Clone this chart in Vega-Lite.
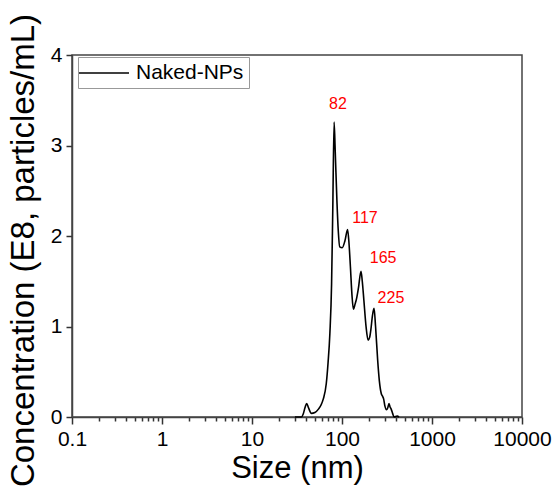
{
  "$schema": "https://vega.github.io/schema/vega-lite/v6.json",
  "width": 450,
  "height": 362,
  "autosize": "none",
  "padding": {"left": 72, "top": 55, "right": 33, "bottom": 78},
  "background": "white",
  "config": {
    "font": "Liberation Sans",
    "view": {"stroke": "#444", "strokeWidth": 1.5},
    "axis": {
      "domainColor": "#444", "domainWidth": 1.5, "tickColor": "#333", "tickWidth": 1.5,
      "labelColor": "black", "titleColor": "black",
      "labelFont": "Liberation Sans", "titleFont": "Liberation Sans",
      "labelFontSize": 21, "titleFontSize": 31, "titleFontWeight": "normal", "grid": false
    }
  },
  "datasets": {
    "curve": [
      {"size": 30, "conc": 0, "series": "Naked-NPs"},
      {"size": 35.4, "conc": 0, "series": "Naked-NPs"},
      {"size": 37, "conc": 0.03, "series": "Naked-NPs"},
      {"size": 39, "conc": 0.11, "series": "Naked-NPs"},
      {"size": 40.5, "conc": 0.15, "series": "Naked-NPs"},
      {"size": 42.5, "conc": 0.1, "series": "Naked-NPs"},
      {"size": 45.7, "conc": 0.04, "series": "Naked-NPs"},
      {"size": 50, "conc": 0.05, "series": "Naked-NPs"},
      {"size": 55, "conc": 0.09, "series": "Naked-NPs"},
      {"size": 58.3, "conc": 0.13, "series": "Naked-NPs"},
      {"size": 62, "conc": 0.2, "series": "Naked-NPs"},
      {"size": 66.9, "conc": 0.37, "series": "Naked-NPs"},
      {"size": 70, "conc": 0.6, "series": "Naked-NPs"},
      {"size": 73.3, "conc": 0.92, "series": "Naked-NPs"},
      {"size": 76.6, "conc": 1.47, "series": "Naked-NPs"},
      {"size": 79, "conc": 2.3, "series": "Naked-NPs"},
      {"size": 81.7, "conc": 3.26, "series": "Naked-NPs"},
      {"size": 84, "conc": 2.95, "series": "Naked-NPs"},
      {"size": 87.8, "conc": 2.39, "series": "Naked-NPs"},
      {"size": 91, "conc": 2.05, "series": "Naked-NPs"},
      {"size": 94.3, "conc": 1.88, "series": "Naked-NPs"},
      {"size": 100.5, "conc": 1.87, "series": "Naked-NPs"},
      {"size": 108, "conc": 1.95, "series": "Naked-NPs"},
      {"size": 115.3, "conc": 2.07, "series": "Naked-NPs"},
      {"size": 119, "conc": 1.95, "series": "Naked-NPs"},
      {"size": 124, "conc": 1.66, "series": "Naked-NPs"},
      {"size": 129, "conc": 1.35, "series": "Naked-NPs"},
      {"size": 134, "conc": 1.19, "series": "Naked-NPs"},
      {"size": 140, "conc": 1.25, "series": "Naked-NPs"},
      {"size": 144.5, "conc": 1.3, "series": "Naked-NPs"},
      {"size": 152, "conc": 1.42, "series": "Naked-NPs"},
      {"size": 162.6, "conc": 1.61, "series": "Naked-NPs"},
      {"size": 168, "conc": 1.5, "series": "Naked-NPs"},
      {"size": 175, "conc": 1.29, "series": "Naked-NPs"},
      {"size": 185, "conc": 1.0, "series": "Naked-NPs"},
      {"size": 195, "conc": 0.85, "series": "Naked-NPs"},
      {"size": 203, "conc": 0.88, "series": "Naked-NPs"},
      {"size": 209, "conc": 0.96, "series": "Naked-NPs"},
      {"size": 218, "conc": 1.12, "series": "Naked-NPs"},
      {"size": 227, "conc": 1.2, "series": "Naked-NPs"},
      {"size": 236, "conc": 1.0, "series": "Naked-NPs"},
      {"size": 249, "conc": 0.63, "series": "Naked-NPs"},
      {"size": 260, "conc": 0.4, "series": "Naked-NPs"},
      {"size": 273, "conc": 0.26, "series": "Naked-NPs"},
      {"size": 282, "conc": 0.23, "series": "Naked-NPs"},
      {"size": 290, "conc": 0.2, "series": "Naked-NPs"},
      {"size": 300, "conc": 0.12, "series": "Naked-NPs"},
      {"size": 312, "conc": 0.08, "series": "Naked-NPs"},
      {"size": 322, "conc": 0.1, "series": "Naked-NPs"},
      {"size": 333, "conc": 0.15, "series": "Naked-NPs"},
      {"size": 342, "conc": 0.11, "series": "Naked-NPs"},
      {"size": 351, "conc": 0.09, "series": "Naked-NPs"},
      {"size": 365, "conc": 0.04, "series": "Naked-NPs"},
      {"size": 380, "conc": 0, "series": "Naked-NPs"},
      {"size": 410, "conc": 0.01, "series": "Naked-NPs"},
      {"size": 430, "conc": 0, "series": "Naked-NPs"}
    ],
    "labels": [
      {"size": 90.3, "conc": 3.46, "label": "82"},
      {"size": 180, "conc": 2.2, "label": "117"},
      {"size": 286, "conc": 1.76, "label": "165"},
      {"size": 350, "conc": 1.31, "label": "225"}
    ]
  },
  "layer": [
    {
      "data": {"name": "curve"},
      "mark": {"type": "line", "interpolate": "monotone", "strokeWidth": 1.6},
      "encoding": {
        "x": {
          "field": "size", "type": "quantitative",
          "scale": {"type": "log", "domain": [0.1, 10000]},
          "axis": {
            "orient": "bottom",
            "values": [0.1,0.2,0.3,0.4,0.5,0.6,0.7,0.8,0.9,1,2,3,4,5,6,7,8,9,10,20,30,40,50,60,70,80,90,100,200,300,400,500,600,700,800,900,1000,2000,3000,4000,5000,6000,7000,8000,9000,10000],
            "labelExpr": "indexof([0.1,1,10,100,1000,10000], datum.value) >= 0 ? format(datum.value, '~g') : ''",
            "labelOverlap": false,
            "tickSize": {"condition": {"test": "indexof([0.1,1,10,100,1000,10000], datum.value) >= 0", "value": 7}, "value": 4},
            "labelPadding": 4, "title": "Size (nm)", "titlePadding": 4, "labelFlush": false
          }
        },
        "y": {
          "field": "conc", "type": "quantitative",
          "scale": {"domain": [0, 4]},
          "axis": {"values": [0, 1, 2, 3, 4], "format": "d", "tickSize": 6, "labelPadding": 4, "title": "Concentration (E8, particles/mL)", "titleFontSize": 33, "titleX": -32, "titleY": 195}
        },
        "color": {
          "field": "series", "type": "nominal",
          "scale": {"range": ["black"]},
          "legend": {
            "title": null, "orient": "none", "legendX": 6, "legendY": 2,
            "symbolType": "M-2.5,0H2.5", "symbolSize": 400, "symbolStrokeWidth": 1.5, "symbolOffset": 10,
            "symbolStrokeColor": "black",
            "labelFontSize": 21, "labelFont": "Liberation Sans", "labelColor": "black", "labelOffset": 21,
            "strokeColor": "#999", "fillColor": "white", "padding": 5
          }
        }
      }
    },
    {
      "data": {"name": "labels"},
      "mark": {"type": "text", "color": "#ff0000", "fontSize": 16, "align": "center", "baseline": "middle"},
      "encoding": {
        "x": {"field": "size", "type": "quantitative"},
        "y": {"field": "conc", "type": "quantitative"},
        "text": {"field": "label"}
      }
    }
  ]
}
